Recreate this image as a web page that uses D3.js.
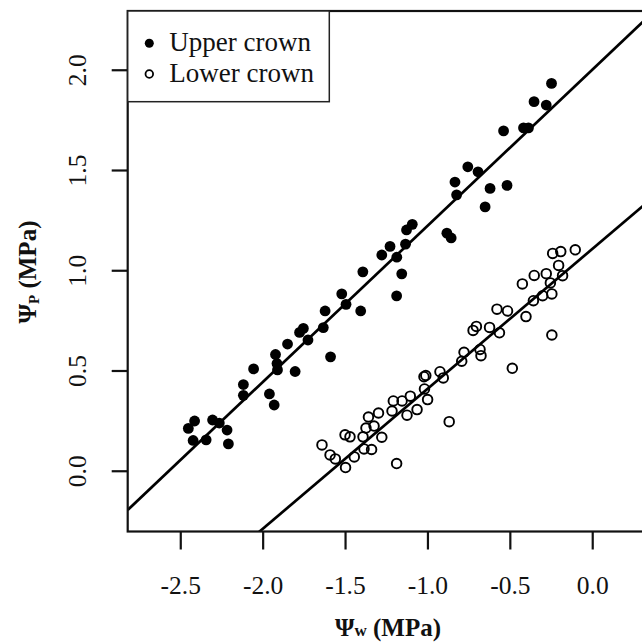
<!DOCTYPE html>
<html>
<head>
<meta charset="utf-8">
<script src="https://cdn.jsdelivr.net/npm/d3@7"></script>
<style>
  body { margin: 0; background: #fff; }
  text { font-family: "Liberation Serif", "Times New Roman", serif; fill: #111; }
</style>
</head>
<body>
<div class="d3chart"></div>
<script>
// Upper crown (filled dots)
var upperX = [-2.451, -2.413, -2.422, -2.343, -2.304, -2.263, -2.216, -2.208, -2.117, -2.117,
              -2.055, -1.959, -1.930, -1.922, -1.913, -1.910, -1.849, -1.803, -1.776, -1.753,
              -1.725, -1.632, -1.621, -1.588, -1.520, -1.494, -1.405, -1.392, -1.277, -1.227,
              -1.186, -1.156, -1.187, -1.133, -1.127, -1.092, -0.882, -0.856, -0.833, -0.823,
              -0.755, -0.693, -0.620, -0.650, -0.517, -0.538, -0.417, -0.387, -0.353, -0.279, -0.247];
var upperY = [0.211, 0.248, 0.151, 0.154, 0.253, 0.238, 0.203, 0.134, 0.430, 0.376,
              0.508, 0.383, 0.328, 0.580, 0.535, 0.503, 0.632, 0.495, 0.690, 0.710,
              0.652, 0.714, 0.797, 0.568, 0.882, 0.830, 0.797, 0.992, 1.076, 1.119,
              1.065, 0.982, 0.872, 1.130, 1.201, 1.229, 1.185, 1.161, 1.440, 1.376,
              1.516, 1.491, 1.408, 1.316, 1.423, 1.695, 1.710, 1.710, 1.841, 1.824, 1.932];

// Lower crown (open circles)
var lowerX = [-1.640, -1.591, -1.559, -1.497, -1.500, -1.470, -1.444, -1.385, -1.373, -1.339,
              -1.358, -1.324, -1.297, -1.277, -1.215, -1.207, -1.187, -1.154, -1.124, -1.104,
              -1.063, -1.021, -1.010, -1.018, -0.999, -0.924, -0.904, -0.868, -0.792, -0.778,
              -0.723, -0.703, -0.681, -0.675, -0.623, -0.578, -0.563, -0.514, -0.485, -0.424,
              -0.402, -0.352, -0.357, -0.301, -0.279, -0.254, -0.245, -0.245, -0.240, -0.204,
              -0.191, -0.180, -0.103, -1.391];
var lowerY = [0.129, 0.079, 0.059, 0.016, 0.179, 0.169, 0.069, 0.109, 0.213, 0.106,
              0.268, 0.223, 0.288, 0.167, 0.298, 0.348, 0.036, 0.348, 0.277, 0.372,
              0.305, 0.469, 0.475, 0.408, 0.355, 0.494, 0.463, 0.245, 0.546, 0.591,
              0.700, 0.720, 0.605, 0.574, 0.715, 0.806, 0.688, 0.797, 0.511, 0.932,
              0.769, 0.974, 0.848, 0.873, 0.983, 0.937, 0.882, 0.677, 1.084, 1.024,
              1.093, 0.973, 1.102, 0.169];

// fitted lines: [intercept, slope]
var upperFit = [2.0, 0.779];
var lowerFit = [1.106, 0.698];

var xTicks = [-2.5, -2.0, -1.5, -1.0, -0.5, 0.0];
var yTicks = [0.0, 0.5, 1.0, 1.5, 2.0];
var legendLabels = ["Upper crown", "Lower crown"];

var width = 642, height = 642;
var boxL = 127.7, boxR = 661.6, boxT = 11, boxB = 531.5;

var svg = d3.select(".d3chart").append("svg")
    .attr("width", width)
    .attr("height", height);

var x = d3.scaleLinear().domain([-2.819, 0.421]).range([boxL, boxR]);
var y = d3.scaleLinear().domain([-0.303, 2.293]).range([boxB, boxT]);

svg.append("clipPath").attr("id", "plotclip")
  .append("rect")
    .attr("x", boxL).attr("y", boxT)
    .attr("width", boxR - boxL).attr("height", boxB - boxT);

/************* axes ***************/
var xAxis = svg.append("g")
    .attr("transform", "translate(0," + boxB + ")")
    .call(d3.axisBottom(x).tickValues(xTicks).tickSize(18).tickFormat(d3.format(".1f")));
xAxis.select(".domain").remove();
xAxis.selectAll("line").attr("stroke", "#111").attr("stroke-width", 2.2);
xAxis.selectAll("text").attr("font-size", 25.5).attr("font-family", "Liberation Serif")
    .attr("fill", "#111").attr("dy", null).attr("y", 62)
    .text(function(d){ return d3.format(".1f")(d).replace("−", "-"); });

var yAxis = svg.append("g")
    .attr("transform", "translate(" + boxL + ",0)")
    .call(d3.axisLeft(y).tickValues(yTicks).tickSize(16).tickFormat(d3.format(".1f")));
yAxis.select(".domain").remove();
yAxis.selectAll("line").attr("stroke", "#111").attr("stroke-width", 2.2);
yAxis.selectAll("text")
    .attr("font-size", 25.5).attr("font-family", "Liberation Serif").attr("fill", "#111")
    .attr("x", null).attr("dy", null)
    .attr("text-anchor", "middle")
    .attr("transform", "translate(-42,0) rotate(-90)");

/************* regression lines ***************/
var lineGroup = svg.append("g").attr("clip-path", "url(#plotclip)");
[upperFit, lowerFit].forEach(function(f){
    var xs = x.domain();
    lineGroup.append("line")
        .attr("x1", x(xs[0])).attr("y1", y(f[0] + f[1] * xs[0]))
        .attr("x2", x(xs[1])).attr("y2", y(f[0] + f[1] * xs[1]))
        .attr("stroke", "#000").attr("stroke-width", 2.7);
});

/************* points ***************/
svg.append("g").selectAll("circle")
    .data(upperX)
    .enter().append("circle")
        .attr("cx", function(d){ return x(d); })
        .attr("cy", function(d, i){ return y(upperY[i]); })
        .attr("r", 5.4)
        .attr("fill", "#000");

svg.append("g").selectAll("circle")
    .data(lowerX)
    .enter().append("circle")
        .attr("cx", function(d){ return x(d); })
        .attr("cy", function(d, i){ return y(lowerY[i]); })
        .attr("r", 4.8)
        .attr("fill", "none")
        .attr("stroke", "#000")
        .attr("stroke-width", 1.9);

/************* plot box ***************/
svg.append("rect")
    .attr("x", boxL).attr("y", boxT)
    .attr("width", boxR - boxL).attr("height", boxB - boxT)
    .attr("fill", "none").attr("stroke", "#111").attr("stroke-width", 2.2);

/************* legend ***************/
var legend = svg.append("g").attr("class", "legend");
legend.append("rect")
    .attr("x", boxL).attr("y", boxT)
    .attr("width", 201.6).attr("height", 90.7)
    .attr("fill", "#fff").attr("stroke", "#222").attr("stroke-width", 1.5);
legendLabels.forEach(function(lab, i){
    var cy = 43.3 + i * 30.7;
    legend.append("circle")
        .attr("cx", 149.3).attr("cy", cy)
        .attr("r", i == 0 ? 4.5 : 3.8)
        .attr("fill", i == 0 ? "#000" : "none")
        .attr("stroke", "#000").attr("stroke-width", i == 0 ? 0 : 1.8);
    legend.append("text")
        .attr("x", 169.3).attr("y", cy + 8)
        .attr("font-size", 27)
        .text(lab);
});

/************* axis titles ***************/
var xt = svg.append("text")
    .attr("x", 388).attr("y", 636)
    .attr("text-anchor", "middle")
    .attr("font-size", 25).attr("font-weight", "bold");
xt.append("tspan").text("Ψ");
xt.append("tspan").attr("font-size", 17).text("w");
xt.append("tspan").text(" (MPa)");

var yt = svg.append("text")
    .attr("transform", "translate(36,272) rotate(-90)")
    .attr("text-anchor", "middle")
    .attr("font-size", 25).attr("font-weight", "bold");
yt.append("tspan").text("Ψ");
yt.append("tspan").attr("font-size", 15).attr("dy", 3).text("P");
yt.append("tspan").attr("dy", -3).text(" (MPa)");
</script>
</body>
</html>
